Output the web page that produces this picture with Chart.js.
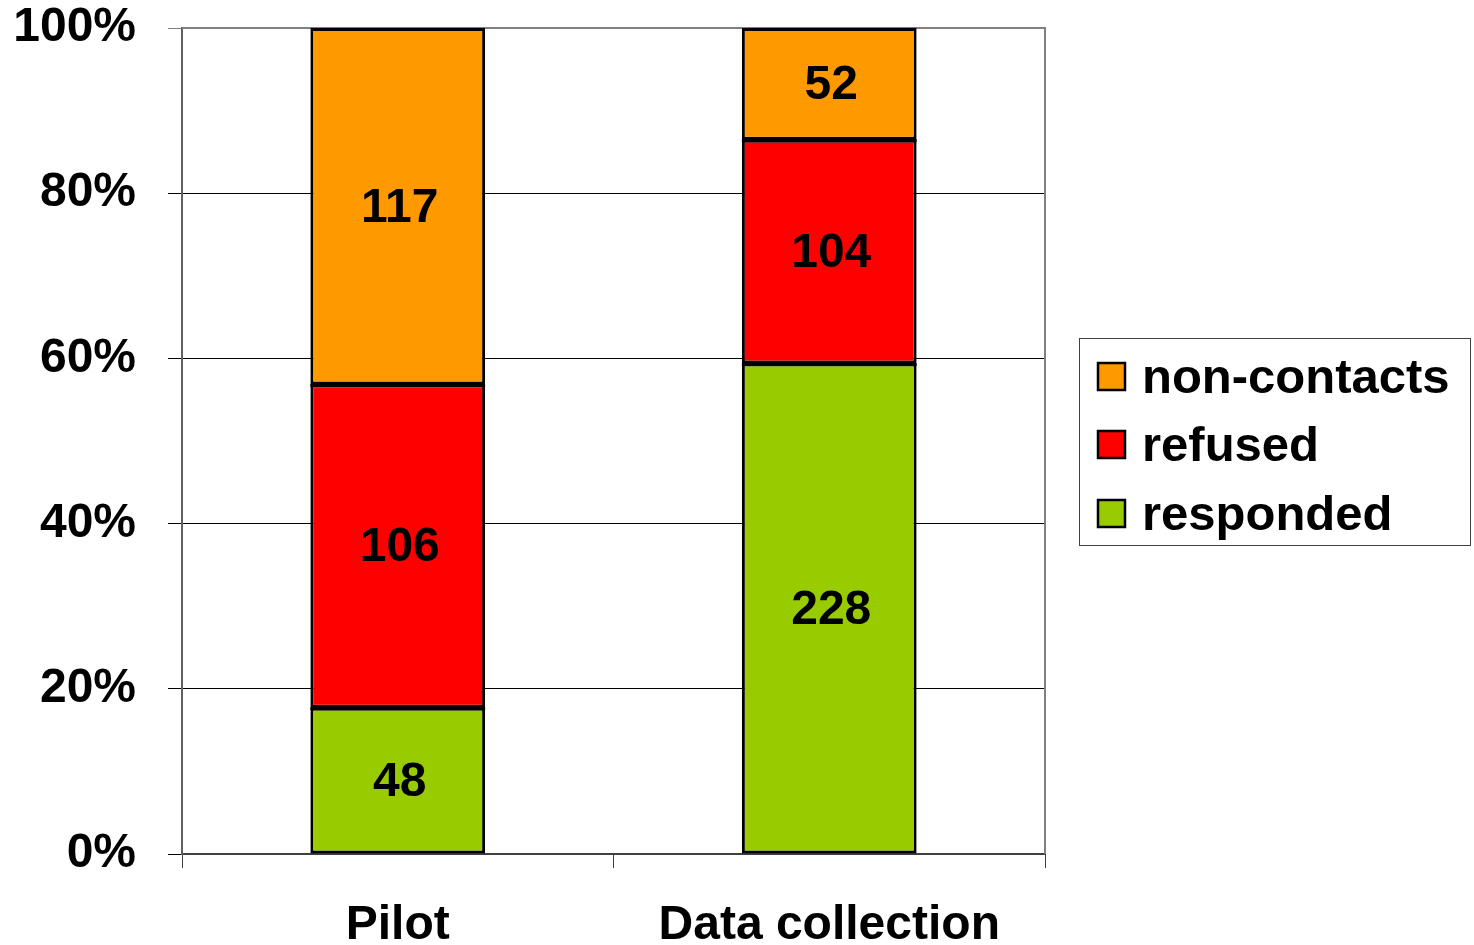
<!DOCTYPE html>
<html>
<head>
<meta charset="utf-8">
<script src="https://cdn.jsdelivr.net/npm/chart.js@4/dist/chart.umd.min.js"></script>
<style>
  html, body { margin: 0; padding: 0; background: #fff; }
  #wrap { width: 1474px; height: 945px; }
</style>
</head>
<body>
<div id="wrap"><canvas id="c" width="1474" height="945"></canvas></div>
<script>
// Survey outcome counts per phase
const categories = ['Pilot', 'Data collection'];
const seriesNames = ['responded', 'refused', 'non-contacts'];
const responded = [48, 228];
const refused = [106, 104];
const nonContacts = [117, 52];
const seriesColors = ['#99CC00', '#FF0000', '#FF9900'];
const yTicks = [0, 20, 40, 60, 80, 100];

const counts = [responded, refused, nonContacts];
const totals = categories.map((_, i) => counts.reduce((s, arr) => s + arr[i], 0));
const share = arr => arr.map((v, i) => v / totals[i] * 100);

const FONT = '"Liberation Sans", Arial, sans-serif';

// Solid dividers between stacked segments plus centred value labels
const segmentLabels = {
  id: 'segmentLabels',
  afterDatasetsDraw(chart) {
    const ctx = chart.ctx;
    ctx.save();
    ctx.strokeStyle = '#000';
    ctx.lineWidth = 3;
    chart.data.datasets.forEach((ds, di) => {
      if (di === chart.data.datasets.length - 1) return;
      chart.getDatasetMeta(di).data.forEach(el => {
        const half = el.width / 2;
        const y = Math.round(el.y) + 0.5;
        ctx.beginPath();
        ctx.moveTo(el.x - half, y);
        ctx.lineTo(el.x + half, y);
        ctx.stroke();
      });
    });
    ctx.font = 'bold 48px ' + FONT;
    ctx.fillStyle = '#000';
    ctx.textAlign = 'center';
    ctx.textBaseline = 'middle';
    chart.data.datasets.forEach((ds, di) => {
      const meta = chart.getDatasetMeta(di);
      meta.data.forEach((el, i) => {
        const cy = (el.y + el.base) / 2;
        ctx.fillText(String(ds.counts[i]), el.x + 2, cy + 2);
      });
    });
    ctx.restore();
  }
};

// Plot-area frame (top and right edges) and boxed legend on the right
const frameAndLegend = {
  id: 'frameAndLegend',
  beforeDatasetsDraw(chart) {
    const { ctx, chartArea: a } = chart;
    ctx.save();
    ctx.strokeStyle = '#808080';
    ctx.lineWidth = 2;
    ctx.beginPath();
    ctx.moveTo(a.left, a.top);
    ctx.lineTo(a.right, a.top);
    ctx.lineTo(a.right, a.bottom);
    ctx.stroke();
    ctx.restore();
  },
  afterDraw(chart) {
    const ctx = chart.ctx;
    const box = { x: 1079.5, y: 338.5, w: 391, h: 207 };
    ctx.save();
    ctx.strokeStyle = '#404040';
    ctx.lineWidth = 1;
    ctx.strokeRect(box.x, box.y, box.w, box.h);
    const rows = [2, 1, 0];
    const rowY = [377, 445, 514];
    ctx.font = 'bold 49px ' + FONT;
    ctx.textBaseline = 'middle';
    ctx.textAlign = 'left';
    rows.forEach((di, r) => {
      const ds = chart.data.datasets[di];
      const y = rowY[r];
      ctx.fillStyle = ds.backgroundColor;
      ctx.fillRect(1098, y - 14, 27, 27);
      ctx.strokeStyle = '#000';
      ctx.lineWidth = 2.5;
      ctx.strokeRect(1098, y - 14, 27, 27);
      ctx.fillStyle = '#000';
      ctx.fillText(ds.label, 1142, y + 2);
    });
    ctx.restore();
  }
};

new Chart(document.getElementById('c'), {
  type: 'bar',
  data: {
    labels: categories,
    datasets: counts.map((arr, i) => ({
      label: seriesNames[i],
      data: share(arr),
      counts: arr,
      backgroundColor: seriesColors[i],
      borderColor: '#000',
      borderWidth: 3,
      borderSkipped: false,
      categoryPercentage: 1.0,
      barPercentage: 0.405
    }))
  },
  options: {
    responsive: false,
    animation: false,
    devicePixelRatio: 1,
    layout: { padding: { top: 28, right: 429, left: 0, bottom: 0 } },
    plugins: {
      legend: { display: false },
      tooltip: { enabled: false }
    },
    scales: {
      x: {
        stacked: true,
        offset: true,
        afterFit(scale) { scale.height = 91; },
        grid: {
          offset: true,
          drawOnChartArea: false,
          drawTicks: true,
          tickLength: 14,
          color: '#404040',
          lineWidth: 1
        },
        border: { display: true, color: '#404040', width: 2 },
        ticks: {
          color: '#000',
          padding: 29,
          font: { family: FONT, size: 48, weight: 'bold' },
          maxRotation: 0
        }
      },
      y: {
        stacked: true,
        min: 0,
        max: 100,
        afterFit(scale) {
          scale.width = 182;
          scale.paddingTop = 0;
          scale.paddingBottom = 0;
        },
        afterBuildTicks(scale) { scale.ticks = yTicks.map(v => ({ value: v })); },
        grid: {
          color: c => (c.tick && c.tick.value === 100) ? '#808080' : '#000',
          lineWidth: 1,
          tickLength: 14,
          drawTicks: true
        },
        border: { display: true, color: '#606060', width: 2 },
        ticks: {
          color: '#000',
          padding: 32,
          font: { family: FONT, size: 48, weight: 'bold', lineHeight: 1.0 },
          callback: v => v + '%'
        }
      }
    }
  },
  plugins: [segmentLabels, frameAndLegend]
});
</script>
</body>
</html>
